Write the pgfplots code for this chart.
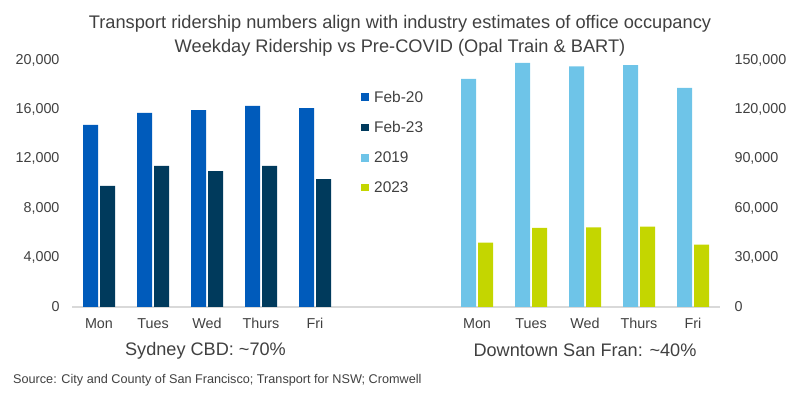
\documentclass[border=0pt]{standalone}
\usepackage{fontspec}
\setmainfont{Liberation Sans}
\usepackage{pgfplots}
\pgfplotsset{compat=1.18}
\definecolor{c1}{RGB}{0,91,187}
\definecolor{c2}{RGB}{0,58,92}
\definecolor{c3}{RGB}{110,196,232}
\definecolor{c4}{RGB}{196,214,0}
\definecolor{txt}{RGB}{64,64,64}
\definecolor{axl}{RGB}{217,217,217}
\pgfplotsset{
  base/.style={
    at={(72bp,86bp)}, anchor=south west,
    scale only axis, width=648bp, height=247bp,
    xmin=-0.5, xmax=11.5, ymin=0,
    major tick length=0pt,
    tick label style={font=\fontsize{14.4}{16}\selectfont, text=txt},
    /pgf/number format/fixed,
    /pgf/number format/assume math mode=true,
    /pgf/number format/1000 sep={,},
    scaled y ticks=false,
    y axis line style={draw=none},
  },
  sq/.style={legend image code/.code={\fill[##1] (0bp,-3.75bp) rectangle (7.5bp,3.75bp); \path (11bp,0);}},
}
\begin{document}
\begin{tikzpicture}
\useasboundingbox (0,0) rectangle (800bp,393bp);
\begin{axis}[base,
  ymax=20000, ytick={0,4000,...,20000},
  axis y line*=left, axis x line*=bottom,
  x axis line style={draw=axl, line width=1.5bp},
  xtick={0,1,2,3,4,7,8,9,10,11},
  xticklabels={Mon,Tues,Wed,Thurs,Fri,Mon,Tues,Wed,Thurs,Fri},
  yticklabel style={xshift=-9bp},
  xticklabel style={yshift=-8bp},
  legend style={at={(0.446,0.884)}, anchor=north west, draw=none, fill=none,
    font=\fontsize{15.5}{17}\selectfont, text=txt, row sep=13.7bp, inner sep=0pt,
    nodes={inner sep=2bp}},
  legend cell align=left,
]
\addplot[ybar, bar width=15bp, bar shift=-8.5bp, fill=c1, draw=none, sq]
  coordinates {(0,14740) (1,15710) (2,15950) (3,16280) (4,16110)};
\addlegendentry{Feb-20}
\addplot[ybar, bar width=15bp, bar shift=8.5bp, fill=c2, draw=none, sq]
  coordinates {(0,9800) (1,11420) (2,11010) (3,11420) (4,10360)};
\addlegendentry{Feb-23}
\addlegendimage{fill=c3, draw=none, sq}
\addlegendentry{2019}
\addlegendimage{fill=c4, draw=none, sq}
\addlegendentry{2023}
\end{axis}
\begin{axis}[base,
  ymax=150000, ytick={0,30000,60000,90000,120000,150000},
  axis y line*=right, axis x line=none,
  xtick=\empty,
  yticklabel style={xshift=11bp},
]
\addplot[ybar, bar width=15bp, bar shift=-8.5bp, fill=c3, draw=none]
  coordinates {(7,138460) (8,148180) (9,146150) (10,146960) (11,133000)};
\addplot[ybar, bar width=15bp, bar shift=8.5bp, fill=c4, draw=none]
  coordinates {(7,39070) (8,47980) (9,48380) (10,48790) (11,37850)};
\end{axis}
\node[text=txt, font=\fontsize{18.3}{24}\selectfont, align=center] at (400bp,357bp)
  {Transport ridership numbers align with industry estimates of office occupancy\\Weekday Ridership vs Pre-COVID (Opal Train \& BART)};
\node[text=txt, font=\fontsize{18.2}{20}\selectfont] at (205.5bp,42bp) {Sydney CBD: \textasciitilde 70\%};
\node[text=txt, font=\fontsize{18.2}{20}\selectfont] at (585bp,43bp) {Downtown San Fran: \textasciitilde 40\%};
\node[text=txt, font=\fontsize{12.7}{14}\selectfont, anchor=west, inner sep=0pt] at (13bp,13bp)
  {Source: City and County of San Francisco; Transport for NSW; Cromwell};
\end{tikzpicture}
\end{document}
